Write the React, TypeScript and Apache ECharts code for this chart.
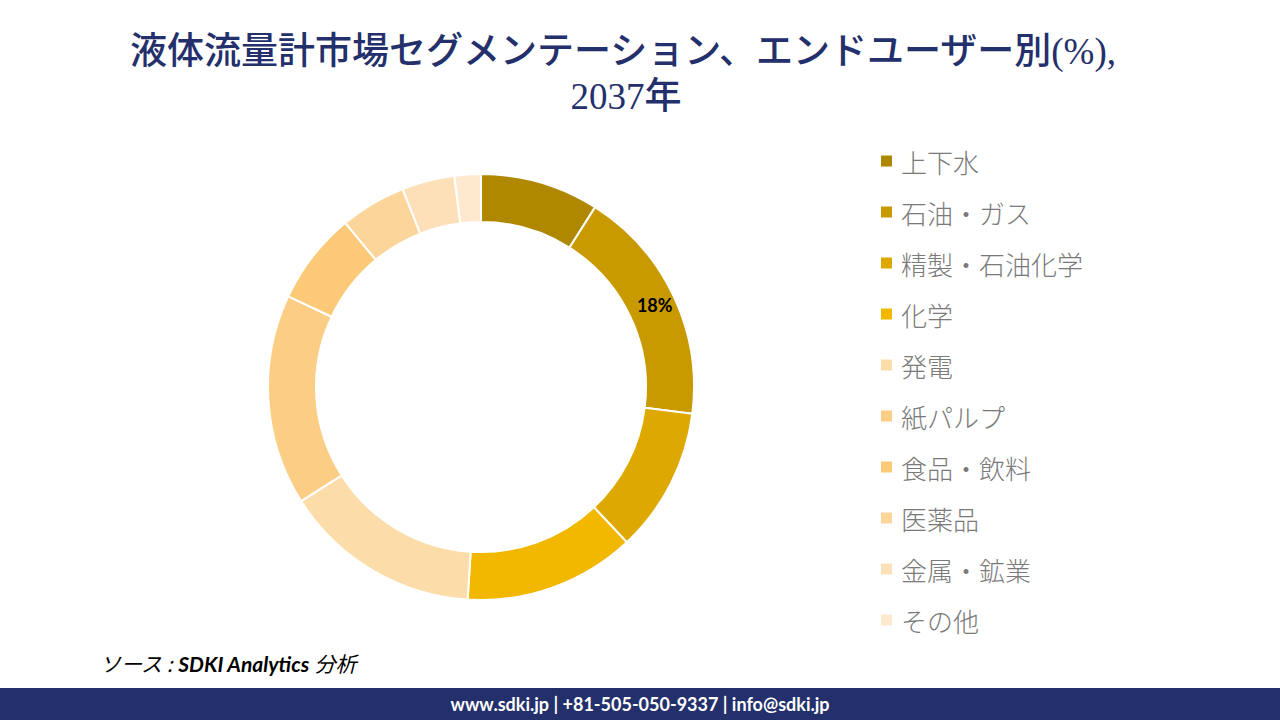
import React, { useEffect, useRef } from "react";
import * as echarts from "echarts";

const categories = ["上下水", "石油・ガス", "精製・石油化学", "化学", "発電", "紙パルプ", "食品・飲料", "医薬品", "金属・鉱業", "その他"];
const values = [9, 18, 11, 13, 15, 16, 7, 5, 4, 2];
const colors = ["#B08800", "#C99A00", "#DDA800", "#F2B800", "#FCDDA9", "#FCCD84", "#FBC978", "#FCD59A", "#FDE0B7", "#FEE8CE"];
const labelled = ["石油・ガス"];

const titleLines = ["液体流量計市場セグメンテーション、エンドユーザー別(%),", "2037年"];
const sourcePrefix = "ソース : ";
const sourceBrand = "SDKI Analytics";
const sourceSuffix = " 分析";
const footerText = "www.sdki.jp | +81-505-050-9337 | info@sdki.jp";

export default function App() {
  const ref = useRef<HTMLDivElement>(null);
  useEffect(() => {
    document.body.style.margin = "0";
    const chart = echarts.init(ref.current!, null, { renderer: "svg" });
    chart.setOption({
      animation: false,
      backgroundColor: "#ffffff",
      legend: {
        orient: "vertical",
        left: 879,
        top: 146,
        padding: 0,
        itemWidth: 13,
        itemHeight: 13,
        itemGap: 21,
        icon: "rect",
        textStyle: { fontSize: 26, color: "#7A7A7A", fontFamily: "Noto Sans CJK JP", fontWeight: 300, lineHeight: 30, padding: [0, 0, 0, 3] },
        data: categories,
      },
      graphic: [
        {
          type: "text",
          x: 623,
          y: 51,
          style: {
            text: titleLines[0],
            textAlign: "center",
            textVerticalAlign: "middle",
            font: "500 37px 'Liberation Serif', 'Noto Sans CJK JP'",
            fill: "#24306B",
          },
        },
        {
          type: "text",
          x: 626,
          y: 96,
          style: {
            text: titleLines[1],
            textAlign: "center",
            textVerticalAlign: "middle",
            font: "500 37px 'Liberation Serif', 'Noto Sans CJK JP'",
            fill: "#24306B",
          },
        },
        {
          type: "text",
          x: 100,
          y: 663,
          style: {
            text: "{a|" + sourcePrefix + "}{b|" + sourceBrand + "}{a|" + sourceSuffix + "}",
            textVerticalAlign: "middle",
            rich: {
              a: { fontSize: 21, fontStyle: "italic", fontFamily: "'Noto Sans CJK JP'", fill: "#000000", color: "#000000" },
              b: { fontSize: 21, fontStyle: "italic", fontWeight: "bold", fontFamily: "Lato", fill: "#000000", color: "#000000" },
            },
          },
        },
        {
          type: "rect",
          shape: { x: 0, y: 688, width: 1280, height: 32 },
          style: { fill: "#24306B" },
        },
        {
          type: "text",
          x: 640,
          y: 704,
          style: {
            text: footerText,
            textAlign: "center",
            textVerticalAlign: "middle",
            font: "bold 18px Lato, 'Noto Sans'",
            fill: "#ffffff",
          },
        },
      ],
      series: [
        {
          type: "pie",
          center: [481, 387],
          radius: [165, 213],
          startAngle: 90,
          clockwise: true,
          avoidLabelOverlap: false,
          itemStyle: { borderColor: "#ffffff", borderWidth: 2 },
          label: { show: false },
          labelLine: { show: false },
          emphasis: { disabled: true },
          data: categories.map((name, i) => ({
            name,
            value: values[i],
            itemStyle: { color: colors[i] },
            label: labelled.includes(name)
              ? {
                  show: true,
                  position: "inside",
                  formatter: "{c}%",
                  fontSize: 18,
                  fontWeight: "bold",
                  color: "#000000",
                  fontFamily: "Lato, 'Noto Sans'",
                }
              : { show: false },
          })),
        },
      ],
    });
    return () => chart.dispose();
  }, []);
  return <div ref={ref} style={{ width: 1280, height: 720 }} />;
}
